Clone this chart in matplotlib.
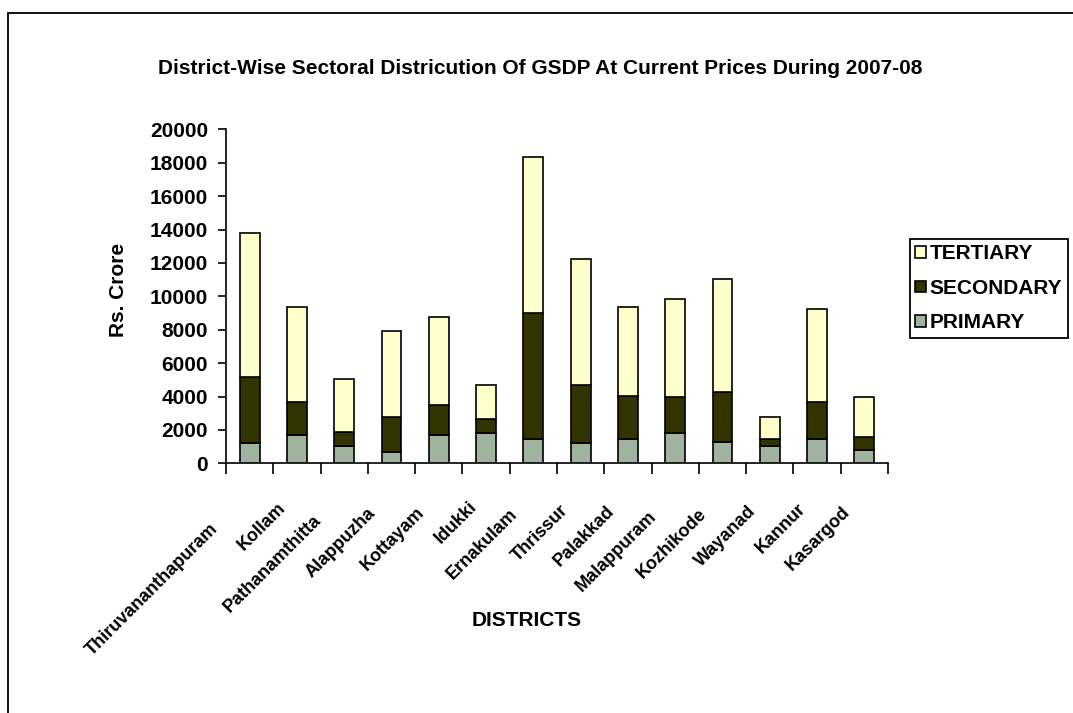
import matplotlib.pyplot as plt
import matplotlib.transforms as mtransforms
from matplotlib.patches import Rectangle, Patch

plt.rcParams['font.family'] = ['Liberation Sans', 'DejaVu Sans']

# District-wise GSDP 2007-08, Rs. Crore
districts = ['Thiruvananthapuram', 'Kollam', 'Pathanamthitta', 'Alappuzha', 'Kottayam',
             'Idukki', 'Ernakulam', 'Thrissur', 'Palakkad', 'Malappuram', 'Kozhikode',
             'Wayanad', 'Kannur', 'Kasargod']
primary = [1200, 1680, 1060, 700, 1680, 1800, 1440, 1200, 1440, 1800, 1300, 1060, 1440, 820]
secondary = [3960, 2020, 840, 2060, 1800, 840, 7580, 3460, 2620, 2180, 3000, 380, 2260, 740]
tertiary = [8640, 5640, 3160, 5160, 5260, 2020, 9320, 7580, 5280, 5860, 6740, 1340, 5540, 2400]

c_prim = '#9FB39F'
c_sec = '#333300'
c_ter = '#FFFFCC'

fig = plt.figure(figsize=(10.73, 7.13), dpi=100)
ax = fig.add_axes([0.2106, 0.3502, 0.6170, 0.4684])

x = list(range(len(districts)))
base2 = primary
base3 = [p + s for p, s in zip(primary, secondary)]
kw = dict(width=0.42, edgecolor='black', linewidth=1.2, zorder=3)
ax.bar(x, primary, color=c_prim, **kw)
ax.bar(x, secondary, bottom=base2, color=c_sec, **kw)
ax.bar(x, tertiary, bottom=base3, color=c_ter, **kw)

ax.set_xlim(-0.5, len(districts) - 0.5)
ax.set_ylim(0, 20000)
ax.set_yticks(range(0, 20001, 2000))
ax.tick_params(axis='y', direction='out', length=6, width=1.2, pad=7, labelsize=15)
for lab in ax.get_yticklabels():
    lab.set_fontweight('bold')

# ticks sit on the category boundaries
ax.set_xticks([i - 0.5 for i in range(len(districts) + 1)])
ax.set_xticklabels([])
ax.tick_params(axis='x', direction='out', length=8, width=1.2)

for side in ['top', 'right']:
    ax.spines[side].set_visible(False)
for side in ['left', 'bottom']:
    ax.spines[side].set_linewidth(1.2)

# slanted district names, longer names pushed further down-left
fig.canvas.draw()
renderer = fig.canvas.get_renderer()
for i, name in enumerate(districts):
    probe = ax.text(0, 0, name, fontsize=13, fontweight='bold')
    L = probe.get_window_extent(renderer).width
    probe.remove()
    shift = 0.173 * L
    tr = mtransforms.offset_copy(ax.get_xaxis_transform(), fig=fig,
                                 x=-(3 + shift), y=-(32 + shift), units='dots')
    ax.text(i, 0, name, fontsize=13, fontweight='bold', rotation=45,
            rotation_mode='anchor', ha='right', va='center',
            transform=tr, clip_on=False)

fig.text(0.503, 1 - 68 / 713,
         'District-Wise Sectoral Districution Of GSDP At Current Prices During 2007-08',
         ha='center', va='center', fontsize=15, fontweight='bold')
fig.text(118 / 1073, 1 - 290 / 713, 'Rs. Crore', rotation=90,
         ha='center', va='center', fontsize=15, fontweight='bold')
fig.text(527 / 1073, 1 - 620 / 713, 'DISTRICTS',
         ha='center', va='center', fontsize=15, fontweight='bold')

handles = [Patch(facecolor=c_ter, edgecolor='black', linewidth=1.2),
           Patch(facecolor=c_sec, edgecolor='black', linewidth=1.2),
           Patch(facecolor=c_prim, edgecolor='black', linewidth=1.2)]
leg = fig.legend(handles, ['TERTIARY', 'SECONDARY', 'PRIMARY'],
                 loc='upper left', bbox_to_anchor=(910 / 1073, 1 - 239 / 713),
                 prop={'weight': 'bold', 'size': 15}, fancybox=False,
                 edgecolor='black', framealpha=1, handlelength=0.5,
                 handleheight=0.5, handletextpad=0.2, labelspacing=0.75,
                 borderpad=0.25, borderaxespad=0)
leg.get_frame().set_linewidth(1.3)

# outer chart border
fig.patches.append(Rectangle((8 / 1073, -0.1), 1.2, 1.1 - 13 / 713,
                             transform=fig.transFigure, fill=False,
                             edgecolor='black', linewidth=1.3))

fig.savefig('out.png', dpi=100)
